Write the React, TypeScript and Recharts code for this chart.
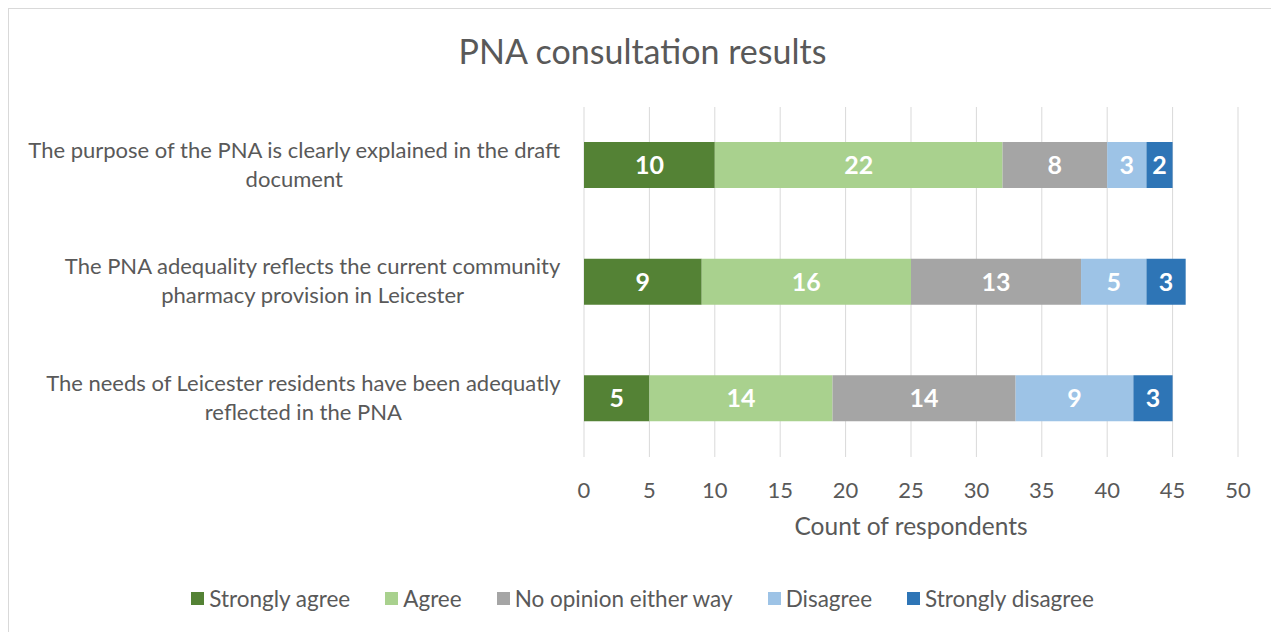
import { Bar, BarChart, CartesianGrid, LabelList, Legend, XAxis, YAxis } from 'recharts';

const FONT = 'Lato, "Open Sans", sans-serif';
const TEXT = '#595959';

const categories = [
  'The purpose of the PNA is clearly explained in the draft\ndocument',
  'The PNA adequality reflects the current community\npharmacy provision in Leicester',
  'The needs of Leicester residents have been adequatly\nreflected in the PNA',
];
const stronglyAgree = [10, 9, 5];
const agree = [22, 16, 14];
const noOpinion = [8, 13, 14];
const disagree = [3, 5, 9];
const stronglyDisagree = [2, 3, 3];
const xTicks = [0, 5, 10, 15, 20, 25, 30, 35, 40, 45, 50];

const SERIES = [
  { key: 'Strongly agree', values: stronglyAgree, color: '#548235' },
  { key: 'Agree', values: agree, color: '#A9D18E' },
  { key: 'No opinion either way', values: noOpinion, color: '#A5A5A5' },
  { key: 'Disagree', values: disagree, color: '#9DC3E6' },
  { key: 'Strongly disagree', values: stronglyDisagree, color: '#2E75B6' },
];

const data = categories.map((name, i) => {
  const row: Record<string, string | number> = { name };
  SERIES.forEach((s) => { row[s.key] = s.values[i]; });
  return row;
});

let ctx: CanvasRenderingContext2D | null = null;
function measure(text: string, size: number) {
  if (!ctx) ctx = document.createElement('canvas').getContext('2d');
  if (!ctx) return text.length * size * 0.5;
  ctx.font = `${size}px ${FONT}`;
  return ctx.measureText(text).width;
}

function CategoryTick({ x, y, payload }: any) {
  const lines = String(payload.value).split('\n');
  const size = 22;
  const maxW = Math.max(...lines.map((l) => measure(l, size)));
  const cx = x - maxW / 2;
  const lh = 29;
  const start = y - ((lines.length - 1) * lh) / 2 - 1;
  return (
    <g>
      {lines.map((l, i) => (
        <text key={i} x={cx} y={start + i * lh} dy="0.35em" textAnchor="middle"
          fill={TEXT} fontSize={size} fontFamily={FONT}>
          {l}
        </text>
      ))}
    </g>
  );
}

function LegendContent() {
  return (
    <div style={{ display: 'flex', justifyContent: 'center', gap: 35, fontFamily: FONT, fontSize: 22.5, color: TEXT, lineHeight: '27px' }}>
      {SERIES.map((s) => (
        <div key={s.key} style={{ display: 'flex', alignItems: 'center' }}>
          <span style={{ width: 13, height: 13, background: s.color, marginRight: 5, display: 'inline-block' }} />
          <span>{s.key}</span>
        </div>
      ))}
    </div>
  );
}

export default function App() {
  const W = 1267;
  const H = 630;
  return (
    <div style={{ position: 'relative', width: W, height: H, border: '1px solid #d9d9d9', background: '#fff' }}>
      <div style={{
        position: 'absolute', top: 21, left: 0, width: W, textAlign: 'center',
        fontFamily: FONT, fontSize: 34, color: TEXT,
      }}>
        PNA consultation results
      </div>
      <BarChart width={W} height={H} data={data} layout="vertical"
        margin={{ top: 98, right: 38, left: 0, bottom: 75 }}>
        <CartesianGrid horizontal={false} stroke="#d9d9d9" strokeWidth={1} />
        <XAxis type="number" domain={[0, 50]} ticks={xTicks} interval={0}
          axisLine={false} tickLine={false} tickSize={0} tickMargin={25} height={80}
          tick={{ fill: TEXT, fontSize: 22, fontFamily: FONT }}
          label={{ value: 'Count of respondents', position: 'insideBottom', offset: 2, fill: TEXT, fontSize: 24.5, fontFamily: FONT }} />
        <YAxis type="category" dataKey="name" width={575} axisLine={false} tickLine={false}
          tickSize={0} tickMargin={23} tick={<CategoryTick />} interval={0} />
        <Legend content={<LegendContent />} wrapperStyle={{ top: 576, left: 0, width: W }} />
        {SERIES.map((s) => (
          <Bar key={s.key} dataKey={s.key} stackId="a" fill={s.color} barSize={46} isAnimationActive={false}>
            <LabelList dataKey={s.key} position="center" fill="#fff" fontSize={25} fontWeight="bold" fontFamily={FONT} />
          </Bar>
        ))}
      </BarChart>
    </div>
  );
}
